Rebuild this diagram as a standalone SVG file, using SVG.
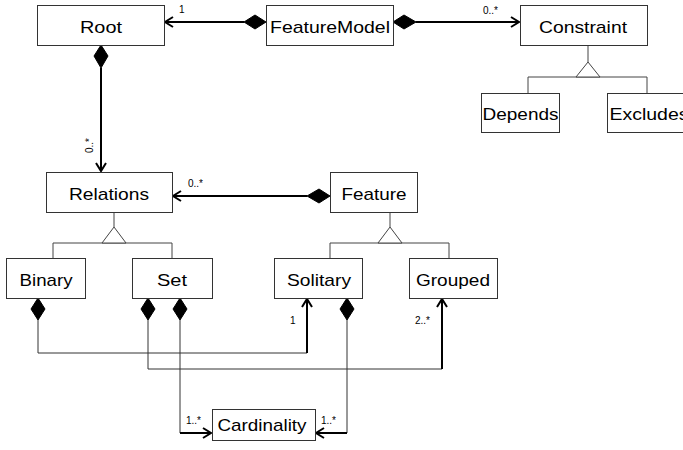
<svg xmlns="http://www.w3.org/2000/svg" width="683" height="450" viewBox="0 0 683 450">
<style>
.box{fill:#fff;stroke:#333;stroke-width:1}
.t{font-family:"Liberation Sans",Arial,sans-serif;font-size:17px;fill:#000;text-anchor:middle}
.s{font-family:"Liberation Sans",Arial,sans-serif;font-size:10px;fill:#000}
.thick{fill:none;stroke:#000;stroke-width:2}
.thin{fill:none;stroke:#333;stroke-width:1}
.gen{fill:none;stroke:#444;stroke-width:1}
.tri{fill:#fff;stroke:#444;stroke-width:1}
.dia{fill:#000;stroke:#000;stroke-width:1}
.head{fill:none;stroke:#000;stroke-width:2}
</style>
<rect width="683" height="450" fill="#fff"/>
<g id="connectors">
  <!-- FeatureModel -> Root -->
  <line class="thick" x1="244" y1="22" x2="165" y2="22"/>
  <polygon class="dia" points="266,22 255,15 244,22 255,29"/>
  <polyline class="head" points="173,17 165,22 173,27"/>
  <text class="s" x="179" y="13">1</text>
  <!-- FeatureModel -> Constraint -->
  <line class="thick" x1="416" y1="22" x2="519" y2="22"/>
  <polygon class="dia" points="393,22 404,15 416,22 404,29"/>
  <polyline class="head" points="511,17 519,22 511,27"/>
  <text class="s" x="483" y="14">0..*</text>
  <!-- Root -> Relations -->
  <line class="thick" x1="101" y1="68" x2="101" y2="171"/>
  <polygon class="dia" points="101,45 94,56 101,68 108,56"/>
  <polyline class="head" points="96,163 101,171 106,163"/>
  <text class="s" transform="translate(93,153) rotate(-90)">0..*</text>
  <!-- Feature -> Relations -->
  <line class="thick" x1="307" y1="196" x2="173" y2="196"/>
  <polygon class="dia" points="330,196 319,189 307,196 319,203"/>
  <polyline class="head" points="181,191 173,196 181,201"/>
  <text class="s" x="188" y="187">0..*</text>
  <!-- Generalizations -->
  <polyline class="gen" points="588,45 588,62"/>
  <polyline class="gen" points="528,93 528,77 647,77 647,93"/>
  <polygon class="tri" points="588,62 576,77 600,77"/>
  <polyline class="gen" points="114,212 114,227"/>
  <polyline class="gen" points="53,258 53,243 172,243 172,258"/>
  <polygon class="tri" points="114,227 102,243 126,243"/>
  <polyline class="gen" points="390,212 390,227"/>
  <polyline class="gen" points="330,258 330,243 449,243 449,258"/>
  <polygon class="tri" points="390,227 378,243 402,243"/>
  <!-- Binary -> Solitary -->
  <polygon class="dia" points="38,298 31,309 38,320 45,309"/>
  <polyline class="thin" points="38,320 38,353 307,353"/>
  <line class="thick" x1="307" y1="353" x2="307" y2="299"/>
  <polyline class="head" points="302,307 307,299 312,307"/>
  <text class="s" x="290" y="324">1</text>
  <!-- Set -> Grouped -->
  <polygon class="dia" points="148,298 141,309 148,320 155,309"/>
  <polyline class="thin" points="148,320 148,369 442,369"/>
  <line class="thick" x1="442" y1="369" x2="442" y2="299"/>
  <polyline class="head" points="437,307 442,299 447,307"/>
  <text class="s" x="415" y="324">2..*</text>
  <!-- Set -> Cardinality -->
  <polygon class="dia" points="180,298 173,309 180,320 187,309"/>
  <polyline class="thin" points="180,320 180,433"/>
  <line class="thick" x1="180" y1="433" x2="211" y2="433"/>
  <polyline class="head" points="203,428 211,433 203,438"/>
  <text class="s" x="186" y="424">1..*</text>
  <!-- Solitary -> Cardinality -->
  <polygon class="dia" points="347,298 340,309 347,320 354,309"/>
  <polyline class="thin" points="347,320 347,433"/>
  <line class="thick" x1="347" y1="433" x2="316" y2="433"/>
  <polyline class="head" points="324,428 316,433 324,438"/>
  <text class="s" x="321" y="424">1..*</text>
</g>
<g id="Root"><rect class="box" x="37.5" y="5.5" width="127" height="40"/><text class="t" x="101" y="33" textLength="42" lengthAdjust="spacingAndGlyphs">Root</text></g>
<g id="FeatureModel"><rect class="box" x="266.5" y="5.5" width="127" height="40"/><text class="t" x="330" y="33" textLength="120" lengthAdjust="spacingAndGlyphs">FeatureModel</text></g>
<g id="Constraint"><rect class="box" x="520.5" y="5.5" width="127" height="40"/><text class="t" x="583" y="33" textLength="88" lengthAdjust="spacingAndGlyphs">Constraint</text></g>
<g id="Depends"><rect class="box" x="481.5" y="93.5" width="78" height="39"/><text class="t" x="520.5" y="120" textLength="76" lengthAdjust="spacingAndGlyphs">Depends</text></g>
<g id="Excludes"><rect class="box" x="607.5" y="93.5" width="80" height="39"/><text class="t" x="649" y="120" textLength="79" lengthAdjust="spacingAndGlyphs">Excludes</text></g>
<g id="Relations"><rect class="box" x="46.5" y="172.5" width="126" height="40"/><text class="t" x="109" y="199.5" textLength="80" lengthAdjust="spacingAndGlyphs">Relations</text></g>
<g id="Feature"><rect class="box" x="330.5" y="172.5" width="87" height="40"/><text class="t" x="374" y="199.5" textLength="65" lengthAdjust="spacingAndGlyphs">Feature</text></g>
<g id="Binary"><rect class="box" x="6.5" y="258.5" width="79" height="40"/><text class="t" x="46" y="286" textLength="53" lengthAdjust="spacingAndGlyphs">Binary</text></g>
<g id="Set"><rect class="box" x="132.5" y="258.5" width="80" height="40"/><text class="t" x="172" y="286" textLength="30" lengthAdjust="spacingAndGlyphs">Set</text></g>
<g id="Solitary"><rect class="box" x="274.5" y="258.5" width="88" height="40"/><text class="t" x="319" y="286" textLength="64" lengthAdjust="spacingAndGlyphs">Solitary</text></g>
<g id="Grouped"><rect class="box" x="409.5" y="258.5" width="88" height="40"/><text class="t" x="453" y="286" textLength="74" lengthAdjust="spacingAndGlyphs">Grouped</text></g>
<g id="Cardinality"><rect class="box" x="212.5" y="409.5" width="103" height="31"/><text class="t" x="262" y="431" textLength="89" lengthAdjust="spacingAndGlyphs">Cardinality</text></g>
</svg>
